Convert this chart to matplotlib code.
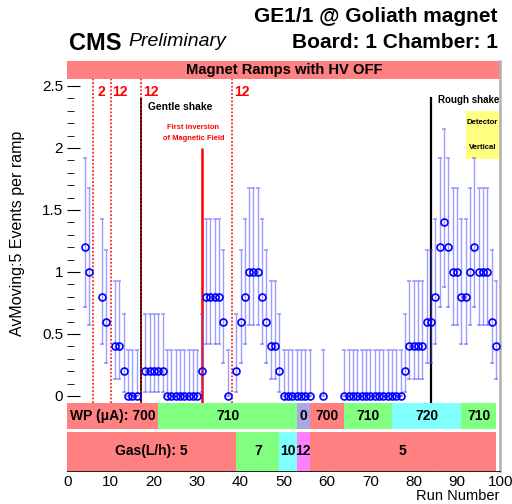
import numpy as np
import matplotlib.pyplot as plt

plt.rcParams['font.family'] = ['Liberation Sans', 'DejaVu Sans']

# moving average (5 ramps) per run
runs = [4, 5, 8, 9, 11, 12, 13, 14, 15, 16,
        18, 19, 20, 21, 22, 23, 24, 25, 26, 27, 28, 29, 30,
        31, 32, 33, 34, 35, 36, 37, 39, 40, 41, 42, 43, 44, 45, 46, 47, 48, 49,
        50, 51, 52, 53, 54, 55, 56, 59,
        64, 65, 66, 67, 68, 69, 70, 71, 72, 73, 74, 75, 76, 77,
        78, 79, 80, 81, 82, 83, 84, 85, 86, 87, 88, 89, 90, 91, 92, 93, 94,
        95, 96, 97, 98, 99]
avg = [1.2, 1.0, 0.8, 0.6, 0.4, 0.4, 0.2, 0, 0, 0,
       0.2, 0.2, 0.2, 0.2, 0.2, 0, 0, 0, 0, 0, 0, 0, 0,
       0.2, 0.8, 0.8, 0.8, 0.8, 0.6, 0, 0.2, 0.6, 0.8, 1.0, 1.0, 1.0, 0.8, 0.6, 0.4, 0.4, 0.2,
       0, 0, 0, 0, 0, 0, 0, 0,
       0, 0, 0, 0, 0, 0, 0, 0, 0, 0, 0, 0, 0, 0,
       0.2, 0.4, 0.4, 0.4, 0.4, 0.6, 0.6, 0.8, 1.2, 1.4, 1.2, 1.0, 1.0, 0.8, 0.8, 1.0, 1.2,
       1.0, 1.0, 1.0, 0.6, 0.4]

# error bar ends for each value level
err_level = [0.0, 0.2, 0.4, 0.6, 0.8, 1.0, 1.2, 1.4]
err_low = [0.0, 0.035, 0.14, 0.27, 0.42, 0.57, 0.72, 0.88]
err_high = [0.37, 0.66, 0.93, 1.18, 1.43, 1.68, 1.92, 2.15]

# bands
wp_edges = [0, 21, 53, 56, 64, 75, 91, 99]
wp_labels = ['WP (μA): 700', '710', '0', '700', '710', '720', '710']
wp_colors = ['#ff8080', '#80ff80', '#a8a8e6', '#ff8080', '#80ff80', '#80ffff', '#80ff80']
gas_edges = [0, 39, 49, 53, 56, 99]
gas_labels = ['Gas(L/h): 5', '7', '10', '12', '5']
gas_colors = ['#ff8080', '#80ff80', '#80ffff', '#ff80ff', '#ff8080']

ramp_runs = [6, 10, 17, 38]
ramp_labels = ['2', '12', '12', '12']
ramp_label_x = [7.9, 12.2, 19.3, 40.3]

lo_map = dict(zip(err_level, err_low))
hi_map = dict(zip(err_level, err_high))
ylo = [v - lo_map[round(v, 1)] for v in avg]
yhi = [hi_map[round(v, 1)] - v for v in avg]

fig = plt.figure(figsize=(5.12, 5.04), dpi=100)
ax = fig.add_axes([67.3/512, 33/504, 433/512, 410.3/504])
ax.set_xlim(0, 100)
ax.set_ylim(-0.605, 2.704)

# vertical markers
ax.vlines(ramp_runs, -0.054, 2.56, colors='red', linestyles=(0, (1.2, 1.2)), lw=1.1, zorder=1.4)
for xl, lab in zip(ramp_label_x, ramp_labels):
    ax.text(xl, 2.45, lab, color='red', fontsize=10, fontweight='bold', ha='center', va='center')
ax.vlines([17], -0.054, 2.40, colors='black', lw=1.3, zorder=1.3)
ax.vlines([84], -0.054, 2.41, colors='black', lw=1.6, zorder=1.3)
ax.vlines([31], -0.054, 2.0, colors='red', lw=1.8, zorder=1.3)
ax.text(18.7, 2.33, 'Gentle shake', fontsize=7.4, fontweight='bold', va='center')
ax.text(29.1, 2.165, 'First inversion', fontsize=5.4, fontweight='bold', color='red', ha='center', va='center')
ax.text(29.1, 2.08, 'of Magnetic Field', fontsize=5.4, fontweight='bold', color='red', ha='center', va='center')
ax.text(85.5, 2.39, 'Rough shake', fontsize=7, fontweight='bold', va='center')
ax.barh(2.105, 8, left=92, height=0.39, color='#ffff80', zorder=1.2)
ax.text(95.9, 2.204, 'Detector', fontsize=5.6, fontweight='bold', ha='center', va='center')
ax.text(95.9, 2.0, 'Vertical', fontsize=5.6, fontweight='bold', ha='center', va='center')

# data
ax.errorbar(runs, avg, yerr=[ylo, yhi], fmt='o', mfc='none', mec='#0000ff', ms=5, mew=1.2,
            ecolor=(0.3, 0.3, 1, 0.55), elinewidth=1, capsize=1.5, capthick=0.8, zorder=3)

# top band
ax.barh(2.629, 100, left=0, height=0.15, color='#ff8080', zorder=2)
ax.text(50, 2.629, 'Magnet Ramps with HV OFF', fontsize=10.6, fontweight='bold', ha='center', va='center', zorder=4)

# WP and gas bands
wp_l = np.array(wp_edges[:-1])
wp_w = np.diff(wp_edges)
ax.barh(-0.1615, wp_w, left=wp_l, height=0.215, color=wp_colors, zorder=2)
for l, w, lab in zip(wp_l, wp_w, wp_labels):
    ax.text(l + w/2, -0.1615, lab, fontsize=10, fontweight='bold', ha='center', va='center', zorder=4)
gas_l = np.array(gas_edges[:-1])
gas_w = np.diff(gas_edges)
ax.barh(-0.4475, gas_w, left=gas_l, height=0.315, color=gas_colors, zorder=2)
for l, w, lab in zip(gas_l, gas_w, gas_labels):
    ax.text(l + w/2, -0.44, lab, fontsize=10, fontweight='bold', ha='center', va='center', zorder=4)

# axes style
ax.set_yticks([0, 0.5, 1, 1.5, 2, 2.5])
ax.set_yticklabels(['0', '0.5', '1', '1.5', '2', '2.5'])
ax.set_yticks(np.arange(0, 2.65, 0.1), minor=True)
ax.set_xticks(np.arange(0, 101, 10))
ax.set_xticks(np.arange(0, 101, 2), minor=True)
ax.tick_params(axis='both', which='both', direction='in', labelsize=11)
ax.tick_params(axis='y', which='major', length=9.5, pad=3)
ax.tick_params(axis='y', which='minor', length=5)
ax.tick_params(axis='x', which='major', length=6.5, pad=3)
ax.tick_params(axis='x', which='minor', length=3.5)
ax.spines['left'].set_visible(False)
ax.spines['top'].set_visible(False)
ax.spines['right'].set_color('#b0b0b0')
ax.spines['right'].set_linewidth(1.8)
ax.spines['bottom'].set_linewidth(0.6)

fig.text(18/512, 1 - 233/504, 'AvMoving:5 Events per ramp', rotation=90, fontsize=11.5, ha='center', va='center')
fig.text(499/512, 3.5/504, 'Run Number', fontsize=10.5, ha='right', va='baseline')

fig.text(498/512, 1 - 17/504, 'GE1/1 @ Goliath magnet', fontsize=15, fontweight='bold', ha='right', va='center')
fig.text(498/512, 1 - 42/504, 'Board: 1 Chamber: 1', fontsize=15, fontweight='bold', ha='right', va='center')
fig.text(68.7/512, 1 - 43/504, 'CMS', fontsize=17, fontweight='bold', ha='left', va='center')
fig.text(128.3/512, 1 - 42/504, 'Preliminary', fontsize=14, style='italic', ha='left', va='center')

plt.savefig('out.png', dpi=100)
